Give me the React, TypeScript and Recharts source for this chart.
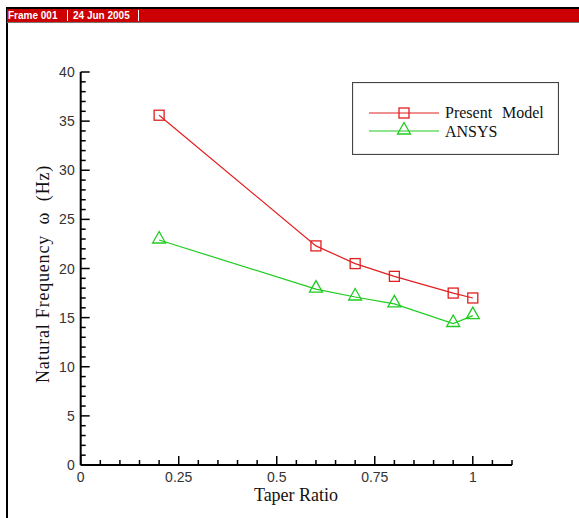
import React from 'react';
import { LineChart, Line, XAxis, YAxis, Legend } from 'recharts';

const taperRatios = [0.2, 0.6, 0.7, 0.8, 0.95, 1.0];
const presentModel = [35.6, 22.3, 20.5, 19.2, 17.5, 17.0];
const ansys = [22.9, 17.9, 17.1, 16.4, 14.4, 15.2];
const xMajorTicks = [0, 0.25, 0.5, 0.75, 1];
const yMajorTicks = [0, 5, 10, 15, 20, 25, 30, 35, 40];
const xAllTicks = Array.from({ length: 23 }, (_, i) => Math.round(i * 5) / 100);
const yAllTicks = Array.from({ length: 41 }, (_, i) => i);

const data = taperRatios.map((t, i) => ({ t, present: presentModel[i], ansys: ansys[i] }));

const RED = '#e02020';
const GREEN = '#20cc20';
const SERIF = '"Liberation Serif", "Times New Roman", serif';
const SANS = '"Liberation Sans", Arial, sans-serif';

const isMajor = (v: number, majors: number[]) => majors.some((m) => Math.abs(m - v) < 1e-6);

const XTick = (props: any) => {
  const { x, y, payload } = props;
  const major = isMajor(payload.value, xMajorTicks);
  return (
    <g>
      <line x1={x} y1={y} x2={x} y2={y - (major ? 9 : 5)} stroke="#000" strokeWidth={1.5} />
      {major && (
        <text x={x} y={y + 16.5} textAnchor="middle" fontFamily={SANS} fontSize={14} fill="#333">
          {String(payload.value)}
        </text>
      )}
    </g>
  );
};

const YTick = (props: any) => {
  const { x, y, payload } = props;
  const major = isMajor(payload.value, yMajorTicks);
  return (
    <g>
      <line x1={x} y1={y} x2={x + (major ? 9 : 5)} y2={y} stroke="#000" strokeWidth={1.5} />
      {major && (
        <text x={x - 6} y={y + 5} textAnchor="end" fontFamily={SANS} fontSize={14} fill="#333">
          {String(payload.value)}
        </text>
      )}
    </g>
  );
};

const SquareDot = (props: any) => {
  const { cx, cy, index } = props;
  if (cx == null || cy == null) return null;
  return <rect key={`s${index}`} x={cx - 5} y={cy - 5} width={10} height={10} fill="none" stroke={RED} strokeWidth={1.3} />;
};

const TriangleDot = (props: any) => {
  const { cx, cy, index } = props;
  if (cx == null || cy == null) return null;
  return (
    <polygon
      key={`t${index}`}
      points={`${cx},${cy - 8.5} ${cx - 6.5},${cy + 3} ${cx + 6.5},${cy + 3}`}
      fill="none"
      stroke={GREEN}
      strokeWidth={1.3}
    />
  );
};

const LegendContent = () => (
  <svg width={207} height={73} style={{ display: 'block' }}>
    <rect x={0.5} y={0.5} width={206} height={72} fill="#fff" stroke="#444" strokeWidth={1.2} />
    <line x1={17} y1={31} x2={87} y2={31} stroke={RED} strokeWidth={1.2} />
    <rect x={47} y={26} width={10} height={10} fill="none" stroke={RED} strokeWidth={1.3} />
    <text x={93} y={36} fontFamily={SERIF} fontSize={16} fill="#111">
      Present
    </text>
    <text x={150} y={36} fontFamily={SERIF} fontSize={16} fill="#111">
      Model
    </text>
    <line x1={17} y1={49} x2={87} y2={49} stroke={GREEN} strokeWidth={1.2} />
    <polygon points={`52,${49 - 8.5} 45.5,${49 + 3} 58.5,${49 + 3}`} fill="none" stroke={GREEN} strokeWidth={1.3} />
    <text x={93} y={55} fontFamily={SERIF} fontSize={16} fill="#111">
      ANSYS
    </text>
  </svg>
);

export default function App() {
  return (
    <div style={{ position: 'absolute', left: 0, top: 0, width: 579, height: 518, background: '#fff', overflow: 'hidden' }}>
      <div style={{ position: 'absolute', left: 6, top: 7, width: 573, height: 1.5, background: '#000' }} />
      <div style={{ position: 'absolute', left: 6, top: 7, width: 1.5, height: 511, background: '#000' }} />
      <div
        style={{
          position: 'absolute',
          left: 7,
          top: 8.5,
          width: 572,
          height: 13,
          background: '#cc0000',
          borderBottom: '1px solid #777',
          color: '#fff',
          fontFamily: SANS,
          fontWeight: 'bold',
          fontSize: 10,
          lineHeight: '13px',
          whiteSpace: 'pre',
        }}
      >
        <span style={{ position: 'absolute', left: 1, top: 0.5 }}>Frame 001</span>
        <span style={{ position: 'absolute', left: 60, top: 1, width: 1, height: 11, background: '#fff' }} />
        <span style={{ position: 'absolute', left: 66, top: 0.5 }}>24 Jun 2005</span>
        <span style={{ position: 'absolute', left: 131, top: 1, width: 1, height: 11, background: '#fff' }} />
      </div>
      <div style={{ position: 'absolute', left: 0, top: 0 }}>
        <LineChart width={579} height={518} data={data} margin={{ top: 72, right: 67, bottom: 23, left: 0 }}>
          <XAxis
            dataKey="t"
            type="number"
            domain={[0, 1.1]}
            ticks={xAllTicks}
            interval={0}
            tick={<XTick />}
            tickLine={false}
            tickSize={0}
            tickMargin={0}
            height={30}
            axisLine={{ stroke: '#000', strokeWidth: 2 }}
            allowDataOverflow
          />
          <YAxis
            type="number"
            domain={[0, 40]}
            ticks={yAllTicks}
            interval={0}
            tick={<YTick />}
            tickLine={false}
            tickSize={0}
            tickMargin={0}
            width={80.7}
            axisLine={{ stroke: '#000', strokeWidth: 2 }}
          />
          <Legend
            layout="vertical"
            align="center"
            verticalAlign="middle"
            content={<LegendContent />}
            wrapperStyle={{ position: 'absolute', left: 352, top: 82, width: 207, height: 73 }}
          />
          <Line
            dataKey="present"
            name="Present Model"
            stroke={RED}
            strokeWidth={1.2}
            dot={<SquareDot />}
            activeDot={false}
            isAnimationActive={false}
          />
          <Line
            dataKey="ansys"
            name="ANSYS"
            stroke={GREEN}
            strokeWidth={1.2}
            dot={<TriangleDot />}
            activeDot={false}
            isAnimationActive={false}
          />
        </LineChart>
      </div>
      <div
        style={{
          position: 'absolute',
          left: 296,
          top: 495,
          transform: 'translate(-50%, -50%)',
          fontFamily: SERIF,
          fontSize: 18,
          lineHeight: '18px',
          color: '#111',
          whiteSpace: 'nowrap',
        }}
      >
        Taper Ratio
      </div>
      <div
        style={{
          position: 'absolute',
          left: 43,
          top: 274,
          transform: 'translate(-50%, -50%) rotate(-90deg)',
          fontFamily: SERIF,
          fontSize: 18,
          letterSpacing: 0.8,
          lineHeight: '18px',
          color: '#111',
          whiteSpace: 'pre',
        }}
      >
        {'Natural Frequency  \u03c9  (Hz)'}
      </div>
    </div>
  );
}
